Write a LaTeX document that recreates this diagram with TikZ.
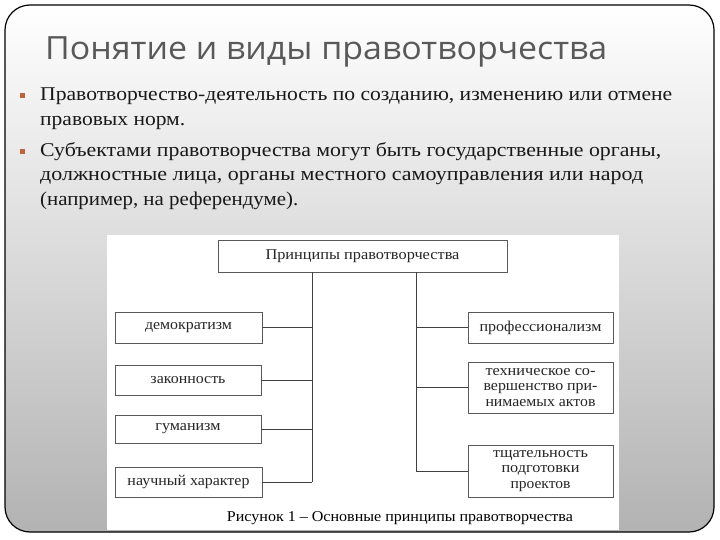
\documentclass[tikz,border=0pt]{standalone}
\usepackage{fontspec}
\setmainfont{Liberation Serif}
\newfontfamily\titlefont{Open Sans}
\newcommand{\fw}[2]{\resizebox{#1pt}{\height}{#2}}
\definecolor{bulletc}{RGB}{192,98,58}
\begin{document}
\begin{tikzpicture}[x=1pt,y=-1pt,
  box/.style={draw=black!65, line width=0.7pt, fill=white, inner sep=0pt, text=black!85,
    font=\fontsize{15}{15.5}\selectfont, align=center},
  conn/.style={draw=black!75, line width=0.9pt},
  bodyline/.style={anchor=base west, inner sep=0pt, text=black!90, font=\fontsize{19.5}{22}\selectfont},
  bulletsq/.style={fill=bulletc, draw=none, minimum size=5pt, inner sep=0pt}]
\useasboundingbox (0,0) rectangle (720,540);
% slide frame
\shade[top color=white, bottom color=black!30, rounded corners=25pt] (5,5) rectangle (714,532);
\draw[line width=1.2pt, rounded corners=25pt] (5,5) rectangle (714,532);
% title
\node[anchor=base west, inner sep=0pt, text=black!65] (title) at (45,60)
  {\titlefont\fw{562}{\fontsize{32}{36}\selectfont Понятие и виды правотворчества}};
% bullets
\node[bulletsq] (b1) at (22.5,96) {};
\node[bulletsq] (b2) at (22.5,152) {};
\node[bodyline] (l1) at (40,101) {\fw{632}{Правотворчество-деятельность по созданию, изменению или отмене}};
\node[bodyline] (l2) at (40,126) {\fw{145}{правовых норм.}};
\node[bodyline] (l3) at (40,157) {\fw{621}{Субъектами правотворчества могут быть государственные органы,}};
\node[bodyline] (l4) at (40,181) {\fw{603}{должностные лица, органы местного самоуправления или народ}};
\node[bodyline] (l5) at (40,205) {\fw{258}{(например, на референдуме).}};
% figure background
\fill[white] (107,235) rectangle (619,530);
% boxes
\node[box, minimum width=289pt, minimum height=32pt] (top) at (362.5,256) {\fw{194}{Принципы правотворчества}};
\node[box, minimum width=147pt, minimum height=31pt] (demo) at (188.5,327.5) {\fw{87}{демократизм}};
\node[box, minimum width=146pt, minimum height=30pt] (zak) at (188,380) {\fw{75}{законность}};
\node[box, minimum width=146pt, minimum height=28pt] (gum) at (188,429) {\fw{65}{гуманизм}};
\node[box, minimum width=147pt, minimum height=30pt] (nauch) at (188.5,482) {\fw{122}{научный характер}};
\node[box, minimum width=145pt, minimum height=31pt] (prof) at (540.5,327.5) {\fw{122}{профессионализм}};
\node[box, minimum width=145pt, minimum height=51pt] (tech) at (540.5,387.5)
  {\fw{110}{техническое со-}\\\fw{114}{вершенство при-}\\\fw{110}{нимаемых актов}};
\node[box, minimum width=145pt, minimum height=52pt] (tsch) at (540.5,471)
  {\fw{95}{тщательность}\\\fw{78}{подготовки}\\\fw{60}{проектов}};
% caption
\node[inner sep=0pt, text=black, font=\fontsize{15}{17}\selectfont] (cap) at (400,518)
  {\fw{346}{Рисунок 1 -- Основные принципы правотворчества}};
% connectors
\coordinate (L) at (312,0);
\coordinate (R) at (416,0);
\draw[conn] (top.south -| L) -- (L |- nauch.east);
\draw[conn] (top.south -| R) -- (R |- tsch.west);
\draw[conn] (demo.east) -- (demo.east -| L);
\draw[conn] (zak.east) -- (zak.east -| L);
\draw[conn] (gum.east) -- (gum.east -| L);
\draw[conn] (nauch.east) -- (nauch.east -| L);
\draw[conn] (prof.west) -- (prof.west -| R);
\draw[conn] (tech.west) -- (tech.west -| R);
\draw[conn] (tsch.west) -- (tsch.west -| R);
\end{tikzpicture}
\end{document}
